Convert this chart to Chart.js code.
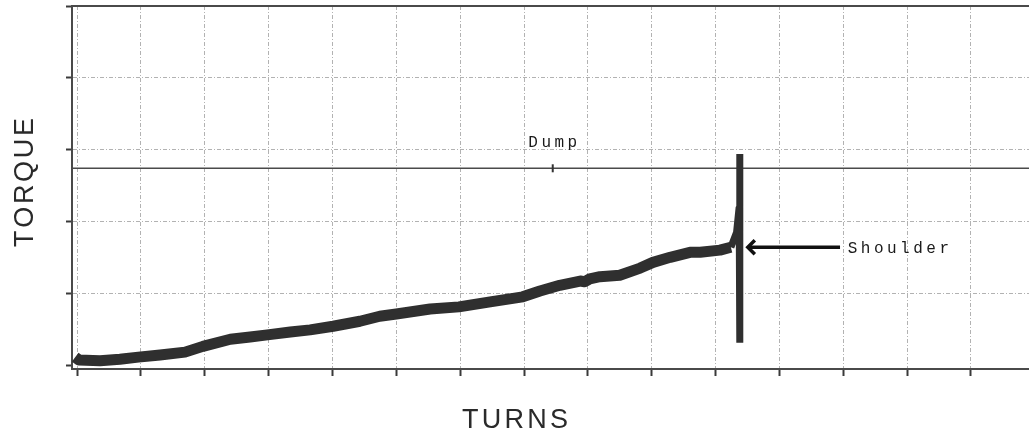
<!DOCTYPE html>
<html>
<head>
<meta charset="utf-8">
<script src="https://cdn.jsdelivr.net/npm/chart.js@4.4.1/dist/chart.umd.min.js"></script>
<style>
  html, body { margin: 0; padding: 0; background: #fff; overflow: hidden; }
  canvas { display: block; }
</style>
</head>
<body>
<canvas id="torqueChart" width="1029" height="438"></canvas>
<script>
// Axis ticks (unlabelled divisions)
const turnTicks = [0, 1, 2, 3, 4, 5, 6, 7, 8, 9, 10, 11, 12, 13, 14];
const torqueTicks = [0, 1, 2, 3, 4, 5];
const turnRange = [-0.08, 14.91];
const torqueRange = [-0.055, 5];

// Make-up trace: torque vs. turns up to the shoulder
const curveTurns = [-0.03, 0.03, 0.36, 0.67, 0.96, 1.30, 1.69, 1.97, 2.40, 2.71, 2.98, 3.34, 3.65, 4.01,
  4.43, 4.74, 5.00, 5.53, 5.98, 6.47, 6.98, 7.25, 7.56, 7.88, 7.95, 8.03, 8.19, 8.50, 8.82, 9.02,
  9.29, 9.60, 9.76, 10.07, 10.24];
const curveTorque = [0.11, 0.07, 0.06, 0.08, 0.11, 0.14, 0.18, 0.26, 0.36, 0.39, 0.42, 0.46, 0.49, 0.54,
  0.61, 0.68, 0.71, 0.78, 0.81, 0.88, 0.95, 1.03, 1.11, 1.17, 1.16, 1.20, 1.23, 1.25, 1.35, 1.43,
  1.50, 1.57, 1.57, 1.60, 1.64];

// Torque spike after the shoulder, then release
const spikeTurns = [10.24, 10.33, 10.37, 10.38, 10.38];
const spikeTorque = [1.64, 1.85, 2.20, 2.94, 0.31];

// Reference levels and annotations
const dumpTorque = 2.74;
const dumpMarkTurn = 7.45;
const shoulderTorque = 1.64;
const shoulderArrowTurns = [10.49, 11.95];
const shoulderLabelTurn = 12.07;

const toPoints = (xs, ys) => xs.map((x, i) => ({ x, y: ys[i] }));

const gridGray = '#b2b2b2';
const axisGray = '#4a4a4a';

function spacedWidth(ctx, text, spacing) {
  let w = 0;
  for (const ch of text) w += ctx.measureText(ch).width;
  return w + spacing * (text.length - 1);
}
function drawSpaced(ctx, text, x, y, spacing) {
  let cx = x;
  for (const ch of text) {
    ctx.fillText(ch, cx, y);
    cx += ctx.measureText(ch).width + spacing;
  }
}

const annotations = {
  id: 'annotations',
  afterDraw(chart) {
    const { ctx, chartArea: a, scales: { x, y } } = chart;
    ctx.save();

    // frame line along the top of the plot
    ctx.strokeStyle = axisGray;
    ctx.lineWidth = 2;
    ctx.beginPath();
    ctx.moveTo(a.left, a.top);
    ctx.lineTo(a.right, a.top);
    ctx.stroke();

    // Dump marker and label
    const dx = x.getPixelForValue(dumpMarkTurn);
    const dy = y.getPixelForValue(dumpTorque);
    ctx.strokeStyle = '#333';
    ctx.lineWidth = 2;
    ctx.beginPath();
    ctx.moveTo(dx, dy - 4);
    ctx.lineTo(dx, dy + 4);
    ctx.stroke();

    ctx.fillStyle = '#1a1a1a';
    ctx.font = '16px "Liberation Mono"';
    ctx.textAlign = 'left';
    ctx.textBaseline = 'alphabetic';
    const dumpW = spacedWidth(ctx, 'Dump', 3.5);
    drawSpaced(ctx, 'Dump', dx - dumpW / 2, dy - 21, 3.5);

    // Shoulder arrow
    const ay = y.getPixelForValue(shoulderTorque);
    const tip = x.getPixelForValue(shoulderArrowTurns[0]);
    const tail = x.getPixelForValue(shoulderArrowTurns[1]);
    ctx.strokeStyle = '#111';
    ctx.lineWidth = 3.5;
    ctx.lineCap = 'butt';
    ctx.beginPath();
    ctx.moveTo(tip + 2, ay);
    ctx.lineTo(tail, ay);
    ctx.stroke();
    ctx.lineJoin = 'miter';
    ctx.beginPath();
    ctx.moveTo(tip + 8, ay - 7);
    ctx.lineTo(tip + 1, ay);
    ctx.lineTo(tip + 8, ay + 7);
    ctx.stroke();

    ctx.fillStyle = '#1a1a1a';
    drawSpaced(ctx, 'Shoulder', x.getPixelForValue(shoulderLabelTurn), ay + 6, 3.5);

    // axis titles
    ctx.fillStyle = '#2a2a2a';
    ctx.font = '27px "Liberation Sans"';
    const turnsW = spacedWidth(ctx, 'TURNS', 3.2);
    drawSpaced(ctx, 'TURNS', 515 - turnsW / 2, 428, 3.2);

    ctx.translate(33, 182.5);
    ctx.rotate(-Math.PI / 2);
    const torqueW = spacedWidth(ctx, 'TORQUE', 2.7);
    drawSpaced(ctx, 'TORQUE', -torqueW / 2, 0, 2.7);

    ctx.restore();
  }
};

new Chart(document.getElementById('torqueChart'), {
  type: 'line',
  data: {
    datasets: [
      {
        data: toPoints(curveTurns, curveTorque),
        borderColor: '#2f2f2f',
        borderWidth: 11,
        borderJoinStyle: 'round',
        borderCapStyle: 'butt'
      },
      {
        data: toPoints(spikeTurns, spikeTorque),
        borderColor: '#2f2f2f',
        borderWidth: 7,
        borderJoinStyle: 'bevel',
        borderCapStyle: 'butt'
      },
      {
        data: toPoints(turnRange, [dumpTorque, dumpTorque]),
        borderColor: '#4a4a4a',
        borderWidth: 1.6
      }
    ]
  },
  options: {
    responsive: false,
    animation: false,
    devicePixelRatio: 1,
    layout: { padding: { top: 6, left: 0, right: 0, bottom: 0 } },
    plugins: { legend: { display: false }, tooltip: { enabled: false } },
    elements: { point: { radius: 0 }, line: { tension: 0 } },
    scales: {
      x: {
        type: 'linear',
        min: turnRange[0],
        max: turnRange[1],
        afterBuildTicks: s => { s.ticks = turnTicks.map(v => ({ value: v })); },
        afterFit: s => { s.height = 69; },
        ticks: { display: false },
        grid: { color: gridGray, lineWidth: 1, drawTicks: true, tickLength: 7, tickColor: '#3a3a3a', tickWidth: 2 },
        border: { display: true, color: axisGray, width: 2, dash: [4, 2, 1, 2] }
      },
      y: {
        type: 'linear',
        min: torqueRange[0],
        max: torqueRange[1],
        afterBuildTicks: s => { s.ticks = torqueTicks.map(v => ({ value: v })); },
        afterFit: s => { s.width = 72; },
        ticks: { display: false },
        grid: {
          color: c => (c.tick && c.tick.value === 0) ? 'rgba(0,0,0,0)' : gridGray,
          lineWidth: 1, drawTicks: true, tickLength: 6, tickColor: '#3a3a3a', tickWidth: 2
        },
        border: { display: true, color: axisGray, width: 2, dash: [4, 2, 1, 2] }
      }
    }
  },
  plugins: [annotations]
});
</script>
</body>
</html>
